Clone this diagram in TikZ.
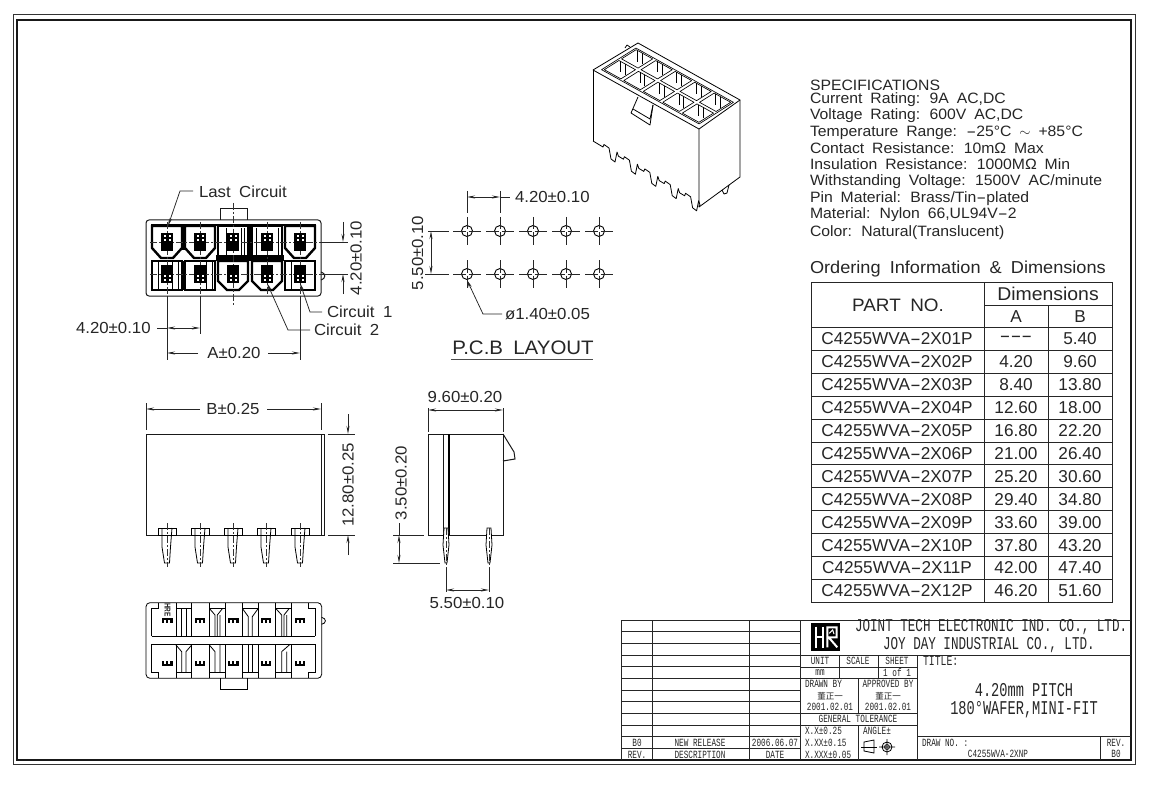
\documentclass[tikz,border=0pt]{standalone}
\usepackage{fontspec}
\usepackage{graphicx}
\usetikzlibrary{arrows.meta}
\newfontfamily\dimf[FakeStretch=1.05,WordSpace=1.8]{Liberation Sans}
\newfontfamily\tabf[FakeStretch=1.0,WordSpace=1.7]{Liberation Sans}
\newfontfamily\monf[FakeStretch=0.7]{Liberation Mono}
\newfontfamily\cjkf{Noto Sans CJK SC}
\newcommand\fs[1]{\fontsize{#1}{#1}\selectfont}
\newcommand\hy{\scalebox{1.9}[1]{-}}
\tikzset{
  every node/.style={inner sep=0pt,outer sep=0pt,text=black!85},
  lab/.style={font=\dimf\fs{16}},
  spc/.style={font=\dimf\fs{15},anchor=west},
  tabt/.style={font=\tabf\fs{17.2}},
  mbig/.style={font=\monf\fs{18}},
  mttl/.style={font=\monf\fs{19.5}},
  msm/.style={font=\monf\fs{11}},
  cjk/.style={font=\cjkf\fs{8.5}},
  edgeln/.style={line width=1pt,black!90},
  dimln/.style={line width=.75pt,black!85},
  arw/.style={dimln,{Stealth[length=8pt,width=3pt]}-{Stealth[length=8pt,width=3pt]}},
  arwe/.style={dimln,-{Stealth[length=8pt,width=3pt]}},
  ctr/.style={line width=.6pt,black!80,dash pattern=on 7pt off 2pt on 2pt off 2pt},
  cellln/.style={line width=2.4pt,black,fill=white,line join=miter},
  tb/.style={line width=.9pt,black!85},
}
\begin{document}
\begin{tikzpicture}[x=1pt,y=-1pt]
\useasboundingbox (0,0) rectangle (1166,794);
\fill[white] (0,0) rectangle (1166,794);
% frame
\draw[line width=1pt,black!80] (13,15) rectangle (1135,764);
\draw[line width=1.2pt,black!90] (17,20) rectangle (1131,760);

% ---------- front view
\draw[edgeln,rounded corners=3pt] (146,220) rectangle (321,296);
\draw[edgeln] (220,220) -- (220,209) -- (247,209) -- (247,220);
\draw[edgeln] (321,272) .. controls (326,273) and (326,279) .. (321,280);
\draw[line width=2.6pt,black] (151,225) -- (316,225);
\foreach \x in {167,200,300}
  \draw[cellln] (\x-15,226) -- (\x+15,226) -- (\x+15,248) -- (\x+6,258) -- (\x-6,258) -- (\x-15,248) -- cycle;
\foreach \x in {233,267}
  \draw[cellln] (\x-15,226) -- (\x+15,226) -- (\x+15,258) -- (\x-15,258) -- cycle;
\foreach \x in {167,200,300}
  \draw[cellln] (\x-15,261) -- (\x+15,261) -- (\x+15,290) -- (\x-15,290) -- cycle;
\foreach \x in {233,267}
  \draw[cellln] (\x-15,261) -- (\x+15,261) -- (\x+15,281) -- (\x+6,290) -- (\x-6,290) -- (\x-15,281) -- cycle;
\fill[black] (216,255) rectangle (284,261);
\fill[black] (182,226) rectangle (185,250);
\fill[black] (182,261) rectangle (185,290);
\fill[black] (248,226) rectangle (252,258);
\draw[line width=.7pt] (226,228) -- (226,256) (241,228) -- (241,256) (244,228) -- (244,256)
   (256,228) -- (256,256) (278,228) -- (278,256) (172,262) -- (172,289) (158,262) -- (158,289)
   (178,262) -- (178,289) (206,262) -- (206,289) (212,262) -- (212,289) (291,262) -- (291,289);
\draw[ctr] (150,242) -- (320,242) (150,274) -- (323,274);
\foreach \x in {167,200,267,300} \draw[ctr] (\x,222) -- (\x,296);
\draw[ctr] (233,203) -- (233,305);
\foreach \x in {167,200,233,267,300} {
  \fill[black] (\x-6,233) rectangle (\x+6,251);
  \fill[black] (\x-6,265) rectangle (\x+6,283);
  \foreach \dx in {-3.5,1.5} {
    \fill[white] (\x+\dx,235) rectangle (\x+\dx+2,237);
    \fill[white] (\x+\dx,239) rectangle (\x+\dx+2,241);
    \fill[white] (\x+\dx,275) rectangle (\x+\dx+2,277);
    \fill[white] (\x+\dx,279) rectangle (\x+\dx+2,281);
  }
}
\node[lab,anchor=west] (lastc) at (199,191.5) {Last Circuit};
\draw[arwe] (193,191) -- (180,191) -- (168,226);
\draw[dimln] (320,242) -- (348,242) (323,274) -- (348,274);
\draw[arwe] (343,222) -- (343,242);
\draw[arwe] (343,294) -- (343,274);
\node[lab,rotate=90] (dfa) at (356,258) {4.20±0.10};
\node[lab,anchor=west] (c1) at (327,311.5) {Circuit 1};
\draw[arwe] (322,312) -- (310,312) -- (300,283);
\node[lab,anchor=west] (c2) at (314,330) {Circuit 2};
\draw[arwe] (310,330) -- (288,330) -- (267,283);
\draw[dimln] (167,296) -- (167,360) (200,296) -- (200,334) (300,296) -- (300,360);
\node[lab,anchor=west] (dfb) at (76,328) {4.20±0.10};
\draw[dimln] (157,328) -- (167,328);
\draw[arw] (167,328) -- (200,328);
\node[lab] (dfc) at (234,353) {A±0.20};
\draw[arwe] (198,353) -- (167,353);
\draw[arwe] (268,353) -- (300,353);

% ---------- PCB layout
\foreach \y in {231,274} \foreach \x in {467,500,533,566,599} {
  \draw[line width=.9pt] (\x,\y) circle (5.5);
  \draw[dimln] (\x-14,\y) -- (\x-1.5,\y) (\x+1.5,\y) -- (\x+14,\y) (\x,\y-14) -- (\x,\y-1.5) (\x,\y+1.5) -- (\x,\y+14);
}
\draw[dimln] (467,191) -- (467,213) (500,191) -- (500,213);
\draw[arw] (467,197) -- (500,197);
\draw[dimln] (500,197) -- (510,197);
\node[lab,anchor=west] (pa) at (515,197) {4.20±0.10};
\draw[dimln] (428,231) -- (449,231) (425,274) -- (449,274);
\draw[arw] (431,231) -- (431,274);
\node[lab,rotate=90] (pb) at (417.5,253) {5.50±0.10};
\draw[arwe] (502,314) -- (483,314) -- (467,280);
\node[lab,anchor=west] (pc) at (505,314) {ø1.40±0.05};
\node[font=\dimf\fs{19.5}] (pt) at (523,348) {P.C.B LAYOUT};
\draw[line width=1pt,black!70] (451,359) -- (593,359);

% ---------- 3D view
\begin{scope}[line width=.8pt,line join=round]
\draw (593,70) -- (638,43) -- (740,100) -- (699,129) -- cycle;
\draw (593,70) -- (593,141);
\draw (699,129) -- (699,207) -- (740,177) -- (740,100);
\draw (593,141) -- (598,144)
  \foreach \i in {0,...,4} { -- ++(5,3) -- ++(1,-2.5) -- ++(5,3.5) -- ++(2,11) -- ++(4,3) -- ++(2,-10) -- ++(1.4,4.2) }
  -- (699,207);
\draw (722,190) -- (724,194) -- (727,193) -- (729,185);
\draw (625,48) -- (627,45) -- (630,47);
\begin{scope}[shift={(593,70)},x={(106pt,-59pt)},y={(43pt,27pt)},line width=.65pt]
\draw (.04,.1) -- (.04,.9) -- (.96,.9) -- (.96,.1) -- cycle;
\foreach \i in {0,...,4} \foreach \j in {0,1} {
  \pgfmathsetmacro\ua{.04+\i*.184+.014}
  \pgfmathsetmacro\ub{.04+\i*.184+.17}
  \pgfmathsetmacro\va{.1+\j*.4+.03}
  \pgfmathsetmacro\vb{.1+\j*.4+.37}
  \draw (\ua,\va) -- (\ua,\vb) -- (\ub,\vb) -- (\ub,\va) -- cycle;
  \draw (\ua+.015,\vb) -- ++(0pt,-11pt) (\ua+.06,\vb) -- ++(0pt,-11pt);
}
\end{scope}
\draw[fill=white] (638,97) -- (631,113) -- (650,125) -- (653,105);
\draw (633,109) -- (650,119) -- (653,105);
\end{scope}

% ---------- bottom view
\begin{scope}[shift={(130,590)},x=.3333pt,y=-.3333pt,line width=.8pt]
\draw[rounded corners=4pt] (48,38) rectangle (575,265);
\draw (270,265) -- (270,298) -- (352,298) -- (352,265);
\draw (575,82) .. controls (590,85) and (590,100) .. (575,103);
\draw (65,138) -- (555,138) (65,162) -- (555,162);
\draw (65,138) -- (65,55) -- (85,55) -- (85,38) (555,138) -- (555,55) -- (535,55) -- (535,38);
\draw (65,162) -- (65,248) -- (85,248) -- (85,265) (555,162) -- (555,248) -- (535,248) -- (535,265);
\foreach \x in {138,238,337,437} {
  \draw (\x,38) -- (\x,138) (\x+47,38) -- (\x+47,138) (\x,55) -- (\x+47,55);
  \draw (\x,162) -- (\x,265) (\x+47,162) -- (\x+47,265) (\x,248) -- (\x+47,248);
}
\draw (155,55) -- (155,138) (168,55) -- (168,138);
\draw (238,55) -- (255,75) -- (255,138) (278,55) -- (262,75) -- (262,138) (270,75) -- (270,138);
\draw (337,55) -- (355,80) -- (355,138) (385,55) -- (367,80) -- (367,138);
\draw (437,55) -- (455,75) -- (455,138) (478,55) -- (462,75) -- (462,138) (470,75) -- (470,138);
\draw (138,165) -- (155,185) -- (155,248) (185,165) -- (168,185) -- (168,248);
\draw (238,165) -- (255,185) -- (255,248) (270,165) -- (270,248);
\draw (355,162) -- (355,248) (367,162) -- (367,248);
\draw (455,248) -- (455,185) -- (478,165) (470,185) -- (470,248);
\foreach \x in {112,210,310,408,510} {
  \fill[black] (\x-16,84) rectangle (\x+16,100);
  \fill[white] (\x-9,90) rectangle (\x-3,100);
  \fill[white] (\x+3,90) rectangle (\x+9,100);
  \fill[black] (\x-16,212) rectangle (\x+16,228);
  \fill[white] (\x-9,212) rectangle (\x-3,222);
  \fill[white] (\x+3,212) rectangle (\x+9,222);
}
\node[rotate=-90,xscale=.72,font=\dimf\bfseries\fs{8.5}] (hre) at (113,60) {HRE};
\end{scope}

% ---------- side view B
\draw[edgeln] (146,434) rectangle (324,535);
\draw[edgeln] (321,434) -- (321,535);
\draw[dimln] (146,403) -- (146,430) (321,403) -- (321,430);
\node[lab] (sa) at (233,409) {B±0.25};
\draw[arwe] (200,409) -- (146,409);
\draw[arwe] (267,409) -- (321,409);
\foreach \x in {167,200,233,266,300} {
  \draw[line width=.8pt,fill=white] (\x-9,528) rectangle (\x+9,535);
  \draw[line width=.8pt] (\x-5,528) -- (\x-5,547) -- (\x-2.5,563) -- (\x+2.5,563) -- (\x+3.5,547) -- (\x+5,528);
  \draw[ctr] (\x,523) -- (\x,567);
}
\draw[dimln] (328,434) -- (355,434) (328,535) -- (355,535);
\draw[arwe] (348,414) -- (348,434);
\draw[arwe] (348,555) -- (348,535);
\node[lab,rotate=90] (sb) at (348,485) {12.80±0.25};

% ---------- side view
\draw[edgeln] (428,434) rectangle (503,535);
\draw[edgeln] (443,434) -- (443,535);
\draw[line width=1.4pt] (449,434) -- (449,535);
\draw[edgeln] (503,434) -- (514,452) -- (515,459) -- (503,461);
\foreach \x in {446,489} {
  \draw[line width=.8pt,fill=white] (\x-2,528) -- (\x-3,545) -- (\x-1,563) -- (\x+1,563) -- (\x+3,545) -- (\x+2,528) -- cycle;
  \draw[ctr] (\x,528) -- (\x,568);
  \draw[dimln] (\x,568) -- (\x,592);
}
\draw[dimln] (428,408) -- (428,432) (503,408) -- (503,432);
\draw[arw] (428,410) -- (503,410);
\node[lab] (ta) at (465,397) {9.60±0.20};
\draw[dimln] (393,535) -- (424,535) (393,563) -- (440,563);
\draw[arw] (399,535) -- (399,563);
\draw[dimln] (399,523) -- (399,535);
\node[lab,rotate=90] (tb1) at (401,483) {3.50±0.20};
\draw[arw] (446,590) -- (489,590);
\node[lab] (tc) at (467,603) {5.50±0.10};

% ---------- specifications
\node[spc] (s0) at (810,85) {SPECIFICATIONS};
\node[spc] (s1) at (810,100) {Current Rating: 9A AC,DC};
\node[spc] (s2) at (810,116) {Voltage Rating: 600V AC,DC};
\node[spc] (s3) at (810,132.5) {Temperature Range: \hy 25°C $\sim$ +85°C};
\node[spc] (s4) at (810,148.5) {Contact Resistance: 10mΩ Max};
\node[spc] (s5) at (810,164.5) {Insulation Resistance: 1000MΩ Min};
\node[spc] (s6) at (810,182) {Withstanding Voltage: 1500V AC/minute};
\node[spc] (s7) at (810,199) {Pin Material: Brass/Tin\hy plated};
\node[spc] (s8) at (810,215) {Material: Nylon 66,UL94V\hy 2};
\node[spc] (s9) at (810,232.5) {Color: Natural(Translucent)};
\node[font=\dimf\fs{17.3},anchor=west] (ord) at (810,269) {Ordering Information \& Dimensions};

% ---------- table
\draw[tb] (811,282) rectangle (1112,602);
\draw[tb] (984,282) -- (984,602) (1048,305) -- (1048,602) (984,305) -- (1112,305);
\foreach \i in {0,...,11} \draw[tb] (811,327.5+22.9*\i) -- (1112,327.5+22.9*\i);
\node[font=\dimf\fs{18}] (h1) at (898,305) {PART NO.};
\node[font=\dimf\fs{18.5}] (h2) at (1048,294) {Dimensions};
\node[tabt] (h3) at (1016,317) {A};
\node[tabt] (h4) at (1080,317) {B};
\foreach \i/\p/\a/\b in {0/01/\hy\hy\hy/5.40,1/02/4.20/9.60,2/03/8.40/13.80,3/04/12.60/18.00,4/05/16.80/22.20,5/06/21.00/26.40,6/07/25.20/30.60,7/08/29.40/34.80,8/09/33.60/39.00,9/10/37.80/43.20,10/11/42.00/47.40,11/12/46.20/51.60} {
  \node[tabt] at (897,339+22.9*\i) {C4255WVA\hy 2X\p P};
  \node[tabt] at (1016,339+22.9*\i) {\a};
  \node[tabt] at (1080,339+22.9*\i) {\b};
}

% ---------- title block
\draw[tb] (621,620) -- (1131,620);
\draw[tb] (621,620) -- (621,760) (652,620) -- (652,760) (749,620) -- (749,760) (800,620) -- (800,760);
\foreach \i in {1,...,11} \draw[tb] (621,620+11.67*\i) -- (800,620+11.67*\i);
\draw[tb] (800,655) -- (1131,655) (917,655) -- (917,760) (917,736) -- (1131,736) (1100,736) -- (1100,760);
\draw[tb] (839,655) -- (839,678) (878,655) -- (878,678) (800,667) -- (917,667) (800,678) -- (917,678);
\draw[tb] (858,678) -- (858,713) (800,713) -- (917,713) (800,725) -- (917,725) (858,725) -- (858,760);
\begin{scope}[shift={(610,610)},x=.3333pt,y=-.3333pt]
\fill[black] (603,40) rectangle (690,122);
\draw[white,line width=2pt] (618,50) -- (618,115) (638,50) -- (638,115) (618,80) -- (638,80);
\draw[white,line width=2pt] (652,112) -- (652,52) -- (680,52) -- (680,82) -- (656,82) -- (682,112);
\draw[white,line width=1pt] (658,70) -- (668,60) -- (672,72);
\end{scope}
\node[mbig,anchor=west] (co1) at (855,627) {JOINT TECH ELECTRONIC IND. CO., LTD.};
\node[mbig,anchor=west] (co2) at (883,645) {JOY DAY INDUSTRIAL CO., LTD.};
\node[msm] at (637,743) {B0};
\node[msm] at (700,743) {NEW RELEASE};
\node[msm] at (775,743) {2006.06.07};
\node[msm] at (637,755) {REV.};
\node[msm] at (700,755) {DESCRIPTION};
\node[msm] at (775,755) {DATE};
\node[msm] at (820,661) {UNIT};
\node[msm] at (858,661) {SCALE};
\node[msm] at (897,661) {SHEET};
\node[msm] at (820,673) {mm};
\node[msm] at (897,673) {1 of 1};
\node[msm,anchor=west] at (805,684) {DRAWN BY};
\node[msm] at (888,684) {APPROVED BY};
\node[cjk] at (830,696.5) {董正一};
\node[cjk] at (888,696.5) {董正一};
\node[msm] at (830,707) {2001.02.01};
\node[msm] at (888,707) {2001.02.01};
\node[msm] at (858,719) {GENERAL TOLERANCE};
\node[msm,anchor=west] at (805,731) {X.X±0.25};
\node[msm,anchor=west] at (805,743) {X.XX±0.15};
\node[msm,anchor=west] at (805,755) {X.XXX±0.05};
\node[msm] at (877,731) {ANGLE±};
\draw[line width=.8pt] (864,742) -- (864,751) -- (874,753) -- (874,740) -- cycle;
\draw[line width=.8pt] (861,747) -- (877,747);
\draw[line width=.8pt] (887,747) circle (5) (887,747) circle (2.5) (879,747) -- (895,747) (887,739) -- (887,755);
\node[font=\monf\fs{14},anchor=west] at (923,661) {TITLE:};
\node[mttl] at (1024,690) {4.20mm PITCH};
\node[mttl] at (1024,710) {180°WAFER,MINI-FIT};
\node[msm,anchor=west] at (922,743) {DRAW NO. :};
\node[msm] at (998,754) {C4255WVA-2XNP};
\node[msm] at (1116,743) {REV.};
\node[msm] at (1116,754) {B0};
\end{tikzpicture}
\end{document}
